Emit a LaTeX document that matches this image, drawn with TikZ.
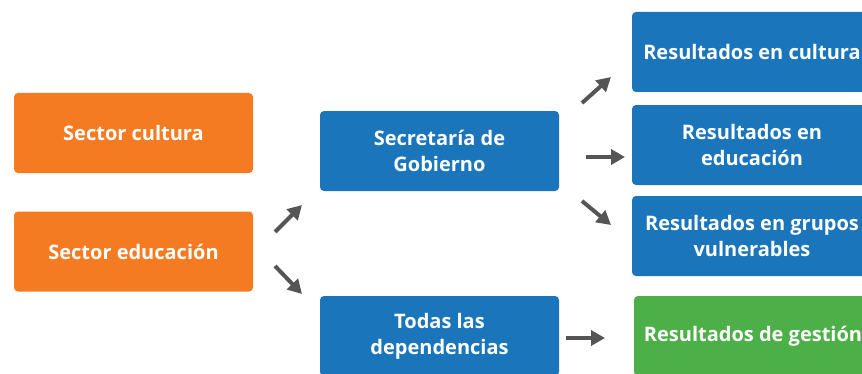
\documentclass[tikz,border=0pt]{standalone}
\usepackage{fontspec}
\setmainfont{Open Sans}
\usetikzlibrary{arrows.meta}

\definecolor{sectororange}{HTML}{F47B22}
\definecolor{flowblue}{HTML}{1B75BB}
\definecolor{gestiongreen}{HTML}{4DAF47}
\definecolor{arrowgray}{HTML}{555555}

\tikzset{
  box/.style={rectangle, rounded corners=4pt, minimum width=239pt, minimum height=80pt,
    text=white, align=center, inner sep=0pt,
    font=\fontsize{20}{26}\selectfont\bfseries},
  flow/.style={arrowgray, line width=4pt, -{Triangle[length=14pt,width=15pt]}}
}

\begin{document}
\begin{tikzpicture}
  [x=1pt,y=1pt]
  \useasboundingbox (0,0) rectangle (862,373);
  \clip (0,0) rectangle (862,373);
  \fill[white] (0,0) rectangle (862,373);

  \node[box, fill=sectororange] (cultura) at (133.5,240) {Sector cultura};
  \node[box, fill=sectororange] (educacion) at (133.5,121.5) {Sector educación};
  \node[box, fill=flowblue] (gobierno) at (439.5,222) {Secretaría de\\Gobierno};
  \node[box, fill=flowblue] (dependencias) at (439.5,37) {Todas las\\dependencias};
  \node[box, fill=flowblue, minimum width=240pt] (rcultura) at (752,321) {Resultados en cultura};
  \node[box, fill=flowblue, minimum width=240pt] (reducacion) at (752,228) {Resultados en\\educación};
  \node[box, fill=flowblue, minimum width=240pt] (rgrupos) at (752,137) {Resultados en grupos\\vulnerables};
  \node[box, fill=gestiongreen, minimum width=238pt] (rgestion) at (753,37) {Resultados de gestión};

  % arrow ends
  \coordinate (a1s) at (275,141);  \coordinate (a1e) at (302,168);
  \coordinate (a2s) at (275,107);  \coordinate (a2e) at (302,79);
  \coordinate (a3s) at (582,270);  \coordinate (a3e) at (611,296);
  \coordinate (a4s) at (586,216);  \coordinate (a4e) at (625,216);
  \coordinate (a5s) at (582,172);  \coordinate (a5e) at (611,148);
  \coordinate (a6s) at (566,35);   \coordinate (a6e) at (605,35);

  \draw[flow] (a1s) -- (a1e);
  \draw[flow] (a2s) -- (a2e);
  \draw[flow] (a3s) -- (a3e);
  \draw[flow] (a4s) -- (a4e);
  \draw[flow] (a5s) -- (a5e);
  \draw[flow] (a6s) -- (a6e);
\end{tikzpicture}
\end{document}
